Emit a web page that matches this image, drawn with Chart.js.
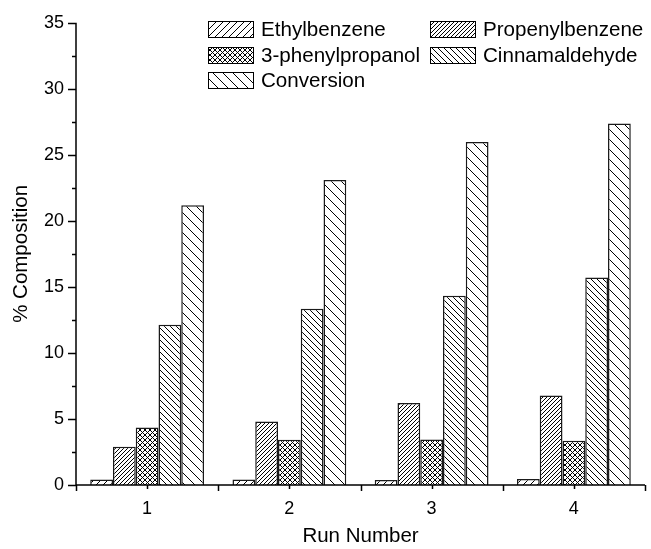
<!DOCTYPE html>
<html>
<head>
<meta charset="utf-8">
<title>Composition by run</title>
<script src="https://cdn.jsdelivr.net/npm/chart.js@4/dist/chart.umd.min.js"></script>
<style>
  html, body { margin: 0; padding: 0; background: #fff; }
  #wrap { width: 651px; height: 549px; }
</style>
</head>
<body>
<div id="wrap"><canvas id="chart" width="651" height="549"></canvas></div>
<script>
// Run labels and composition (%) per product
const runs = ['1', '2', '3', '4'];
const ethylbenzene = [0.42, 0.42, 0.38, 0.45];
const propenylbenzene = [2.9, 4.8, 6.2, 6.77];
const phenylpropanol = [4.35, 3.42, 3.45, 3.35];
const cinnamaldehyde = [12.14, 13.35, 14.33, 15.71];
const conversion = [21.19, 23.1, 25.97, 27.38];

const yMin = 0;
const yMax = 35;
const yStep = 5;

const FONT = '"Liberation Sans", Arial, sans-serif';

// Build a small hatch tile: dir '/' or '\\', or 'x' for crosshatch
function hatch(size, dir) {
  const c = document.createElement('canvas');
  c.width = size;
  c.height = size;
  const g = c.getContext('2d');
  g.fillStyle = '#fff';
  g.fillRect(0, 0, size, size);
  g.strokeStyle = '#000';
  g.lineWidth = 1;
  g.beginPath();
  if (dir === '/' || dir === 'x') {
    g.moveTo(0, size); g.lineTo(size, 0);
    g.moveTo(-1, 1); g.lineTo(1, -1);
    g.moveTo(size - 1, size + 1); g.lineTo(size + 1, size - 1);
  }
  if (dir === '\\' || dir === 'x') {
    g.moveTo(0, 0); g.lineTo(size, size);
    g.moveTo(-1, size - 1); g.lineTo(1, size + 1);
    g.moveTo(size - 1, -1); g.lineTo(size + 1, 1);
  }
  g.stroke();
  return g.createPattern(c, 'repeat');
}

const patterns = {
  ethyl: hatch(7, '/'),
  propenyl: hatch(4, '/'),
  phenyl: hatch(5, 'x'),
  cinnam: hatch(6, '\\'),
  conv: hatch(10, '\\')
};

function series(label, data, pattern) {
  return {
    label: label,
    data: data,
    backgroundColor: pattern,
    borderColor: '#1a1a1a',
    borderWidth: 1.5,
    borderSkipped: 'bottom',
    categoryPercentage: 0.8,
    barPercentage: 1.0
  };
}

// Axis lines and tick marks, drawn by hand so minor ticks can be shorter
const axesPlugin = {
  id: 'axesPlugin',
  afterDraw(chart) {
    const ctx = chart.ctx;
    const area = chart.chartArea;
    const x = chart.scales.x;
    const y = chart.scales.y;
    ctx.save();
    ctx.strokeStyle = '#000';
    ctx.lineWidth = 1.5;
    ctx.beginPath();
    ctx.moveTo(area.left, area.top);
    ctx.lineTo(area.left, area.bottom);
    ctx.moveTo(area.left, area.bottom);
    ctx.lineTo(area.right, area.bottom);
    // y ticks: major every 5, minor in between
    for (let v = yMin; v <= yMax; v += yStep / 2) {
      const py = Math.round(y.getPixelForValue(v)) + 0.5;
      const len = (v % yStep === 0) ? 8 : 4;
      ctx.moveTo(area.left - len, py);
      ctx.lineTo(area.left, py);
    }
    // x ticks: at category edges and centres
    const n = runs.length;
    const w = (area.right - area.left) / n;
    for (let i = 0; i <= n; i++) {
      const px = Math.round(area.left + i * w) + 0.5;
      ctx.moveTo(px, area.bottom);
      ctx.lineTo(px, area.bottom + 6);
    }
    for (let i = 0; i < n; i++) {
      const px = Math.round(x.getPixelForValue(i)) + 0.5;
      ctx.moveTo(px, area.bottom);
      ctx.lineTo(px, area.bottom + 4);
    }
    ctx.stroke();
    ctx.restore();
  }
};

// Two-column legend with hatched swatches
const legendPlugin = {
  id: 'hatchLegend',
  afterDraw(chart) {
    const ctx = chart.ctx;
    const cols = [208, 430];
    const rows = [29, 55, 80];
    ctx.save();
    ctx.font = '20.6px ' + FONT;
    ctx.textBaseline = 'middle';
    ctx.fillStyle = '#000';
    chart.data.datasets.forEach((ds, i) => {
      const bx = cols[i % 2];
      const by = rows[Math.floor(i / 2)];
      ctx.fillStyle = ds.backgroundColor;
      ctx.fillRect(bx, by - 8, 45, 16);
      ctx.strokeStyle = '#000';
      ctx.lineWidth = 1;
      ctx.strokeRect(bx + 0.5, by - 7.5, 45, 16);
      ctx.fillStyle = '#000';
      ctx.fillText(ds.label, bx + 53, by + 1);
    });
    ctx.restore();
  }
};

Chart.defaults.color = '#000';
Chart.defaults.font.family = FONT;

new Chart(document.getElementById('chart'), {
  type: 'bar',
  data: {
    labels: runs,
    datasets: [
      series('Ethylbenzene', ethylbenzene, patterns.ethyl),
      series('Propenylbenzene', propenylbenzene, patterns.propenyl),
      series('3-phenylpropanol', phenylpropanol, patterns.phenyl),
      series('Cinnamaldehyde', cinnamaldehyde, patterns.cinnam),
      series('Conversion', conversion, patterns.conv)
    ]
  },
  options: {
    responsive: false,
    animation: false,
    layout: { padding: { top: 22, right: 6, left: 0, bottom: 0 } },
    plugins: {
      legend: { display: false },
      tooltip: { enabled: false }
    },
    scales: {
      x: {
        grid: { display: false, drawTicks: false },
        border: { display: false },
        ticks: { font: { size: 18 }, padding: 13, color: '#000' },
        title: {
          display: true,
          text: 'Run Number',
          font: { size: 20.5 },
          padding: { top: 0, bottom: 0 }
        },
        afterFit(scale) { scale.height = 64; }
      },
      y: {
        min: yMin,
        max: yMax,
        grid: { display: false, drawTicks: false },
        border: { display: false },
        ticks: { stepSize: yStep, font: { size: 18 }, padding: 12, color: '#000' },
        title: {
          display: true,
          text: '% Composition',
          font: { size: 20.5 },
          padding: { top: 9, bottom: 0 }
        },
        afterFit(scale) { scale.width = 76; }
      }
    }
  },
  plugins: [axesPlugin, legendPlugin]
});
</script>
</body>
</html>
